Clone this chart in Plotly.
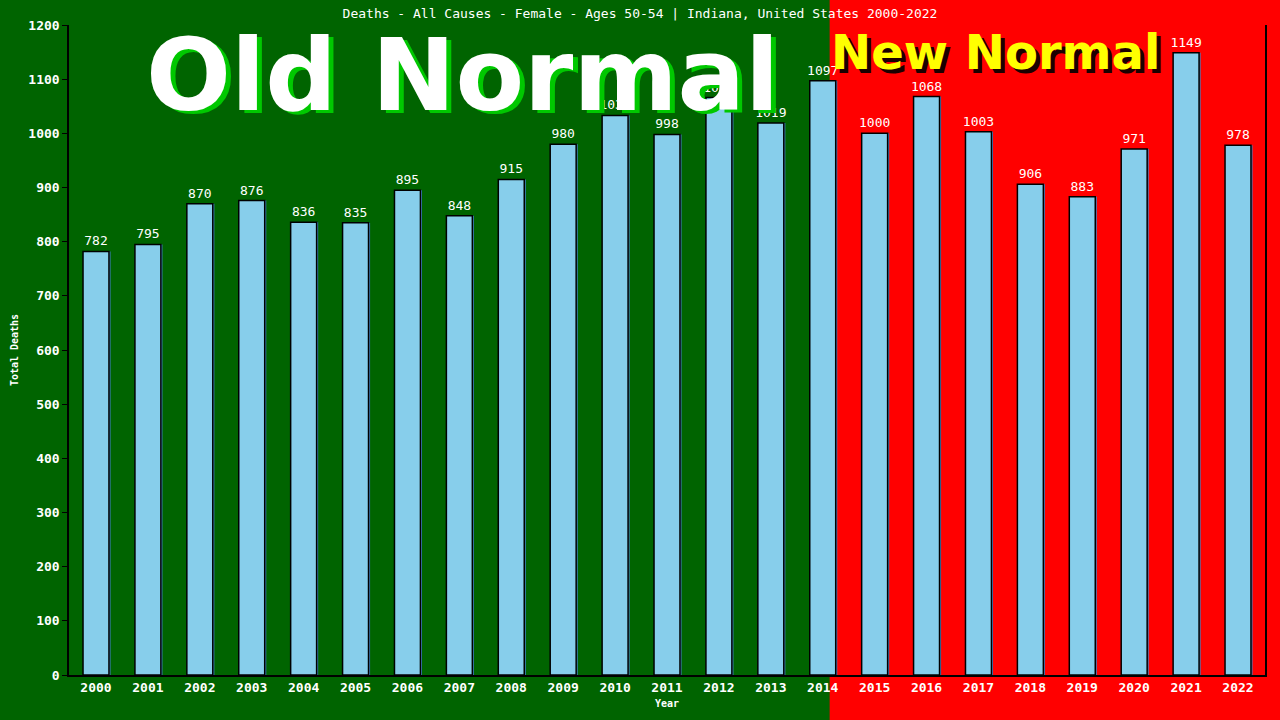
import plotly.graph_objects as go

# Data
years = list(range(2000, 2023))
deaths = [782, 795, 870, 876, 836, 835, 895, 848, 915, 980, 1033, 998,
          1066, 1019, 1097, 1000, 1068, 1003, 906, 883, 971, 1149, 978]
labels = [str(v) for v in deaths]

title = "Deaths - All Causes - Female - Ages 50-54 | Indiana, United States 2000-2022"
mono = "DejaVu Sans Mono"
green_bg = "#006400"
red_bg = "#ff0000"

fig = go.Figure()

# blue "shadow" behind each bar
fig.add_trace(go.Bar(
    x=years, y=deaths,
    width=0.5, offset=-0.22,
    marker=dict(color="#3f7fc0", line=dict(width=0)),
    hoverinfo="skip", showlegend=False))

# main bars with labels
fig.add_trace(go.Bar(
    x=years, y=deaths,
    width=0.5, offset=-0.25,
    marker=dict(color="#87ceeb", line=dict(color="black", width=1.5)),
    text=labels, textposition="outside", cliponaxis=False, constraintext="none",
    textfont=dict(family=mono, size=13, color="white"),
    showlegend=False))

# red "new normal" background half
fig.add_shape(type="rect", xref="paper", yref="paper",
              x0=0.636, x1=1.2, y0=-0.2, y1=1.2,
              fillcolor=red_bg, line=dict(width=0), layer="below")

# big overlay captions with drop shadows (they sit over some bar labels, as in the original)
big = [("Old Normal", 2007.06, 1106, 100, "white", "#00c800", 5, -3),
       ("New Normal", 2017.33, 1150, 48, "#ffff00", "#1a0000", 4, -4)]
for txt, xc, yc, size, col, shadow, dx, dy in big:
    fig.add_annotation(x=xc, y=yc, xref="x", yref="y", text=txt, showarrow=False,
                       xshift=dx, yshift=dy,
                       font=dict(family="DejaVu Sans", size=size, color=shadow, weight="bold"))
    fig.add_annotation(x=xc, y=yc, xref="x", yref="y", text=txt, showarrow=False,
                       font=dict(family="DejaVu Sans", size=size, color=col, weight="bold"))

fig.update_layout(
    width=1280, height=720,
    barmode="overlay",
    paper_bgcolor=green_bg,
    plot_bgcolor="rgba(0,0,0,0)",
    margin=dict(l=69, r=15, t=25, b=41),
    title=dict(text=title, x=0.5, xanchor="center", y=0.982, yanchor="middle",
               font=dict(family=mono, size=13, color="white")),
    font=dict(family=mono, color="white"),
)

fig.update_xaxes(
    range=[1999.48, 2022.52],
    tickmode="array", tickvals=years, ticktext=[str(y) for y in years],
    tickfont=dict(family=mono, size=13, color="white", weight="bold"),
    showline=True, linecolor="black", linewidth=1.5,
    showgrid=False, zeroline=False, ticks="",
    title=dict(text="Year", standoff=6,
               font=dict(family=mono, size=10, color="white", weight="bold")),
)
fig.update_yaxes(
    range=[0, 1200], dtick=100,
    tickfont=dict(family=mono, size=13, color="white", weight="bold"),
    showline=True, linecolor="black", linewidth=1.5, mirror=True,
    ticks="outside", ticklen=5, tickcolor="black",
    showgrid=False, zeroline=False,
    title=dict(text="Total Deaths", standoff=8,
               font=dict(family=mono, size=10, color="white", weight="bold")),
)

fig.write_html("out.html", config={"displayModeBar": False},
               post_script="document.body.style.margin='0';document.body.style.overflow='hidden';")
